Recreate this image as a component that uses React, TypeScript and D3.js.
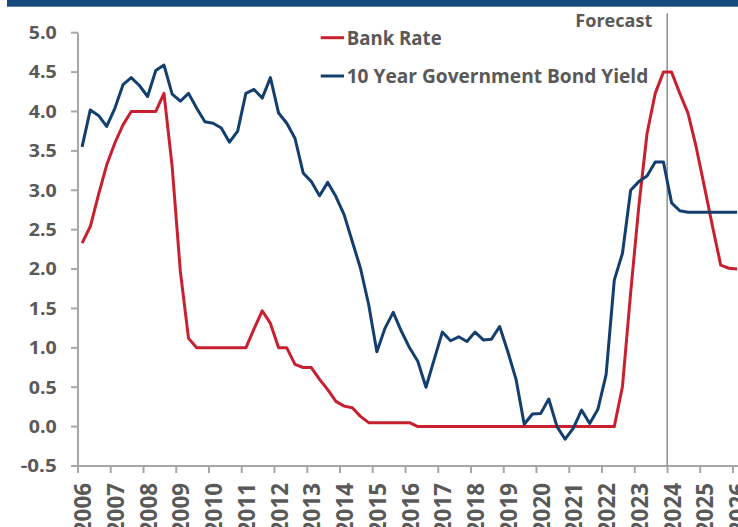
import React from "react";
import * as d3 from "d3";

// Tick labels / categories
const years: number[] = [2006, 2007, 2008, 2009, 2010, 2011, 2012, 2013, 2014, 2015, 2016, 2017, 2018, 2019, 2020, 2021, 2022, 2023, 2024, 2025, 2026];
const yTicks: number[] = [5.0, 4.5, 4.0, 3.5, 3.0, 2.5, 2.0, 1.5, 1.0, 0.5, 0.0, -0.5];
const quarters: string[] = years.flatMap((y) => ["Q1", "Q2", "Q3", "Q4"].map((q) => `${y}${q}`));

// Series (quarterly, starting 2006Q1)
const bankRate: number[] = [
  2.33, 2.54, 2.94, 3.32, 3.60, 3.83, 4.00, 4.00, 4.00, 4.00, 4.23,
  3.30, 1.97, 1.12, 1.00, 1.00, 1.00, 1.00, 1.00, 1.00, 1.00,
  1.24, 1.47, 1.31, 1.00, 1.00, 0.79, 0.75, 0.75, 0.60, 0.47,
  0.32, 0.26, 0.24, 0.13, 0.05, 0.05, 0.05, 0.05, 0.05, 0.05,
  0.00, 0.00, 0.00, 0.00, 0.00, 0.00, 0.00, 0.00, 0.00, 0.00,
  0.00, 0.00, 0.00, 0.00, 0.00, 0.00, 0.00, 0.00, 0.00, 0.00,
  0.00, 0.00, 0.00, 0.00, 0.00,
  0.51, 1.70, 2.80, 3.72, 4.23,
  4.50, 4.50, 4.23, 3.98, 3.55, 3.05, 2.54, 2.05, 2.01, 2.00,
];
const bondYield: number[] = [
  3.55, 4.02, 3.95, 3.81, 4.04, 4.34, 4.43, 4.33, 4.19, 4.52, 4.59,
  4.22, 4.13, 4.23, 4.04, 3.87, 3.85, 3.79, 3.61, 3.75, 4.23,
  4.28, 4.17, 4.43, 3.98, 3.85, 3.66, 3.22, 3.11, 2.93, 3.10,
  2.92, 2.69, 2.35, 2.01, 1.55, 0.95, 1.25, 1.45, 1.21, 1.00,
  0.83, 0.50, 0.85, 1.20, 1.09, 1.14, 1.08, 1.20, 1.10, 1.11,
  1.27, 0.95, 0.60, 0.03, 0.16, 0.165, 0.35, 0.00, -0.16, -0.02,
  0.21, 0.04, 0.22, 0.66, 1.86, 2.20, 3.00, 3.11, 3.18, 3.36,
  3.36, 2.84, 2.74, 2.72, 2.72, 2.72, 2.72, 2.72, 2.72, 2.72,
];
const forecastYear = 2024;
const seriesNames = ["Bank Rate", "10 Year Government Bond Yield"];

const W = 738;
const H = 527;
const RED = "#c8202f";
const BLUE = "#133f6e";
const TEXT = "#595959";
const AXIS = "#a6a6a6";
const FONT = "'Open Sans', sans-serif";

export default function App() {
  const x = d3.scaleLinear().domain([2006, 2026]).range([78, 733]);
  const y = d3.scaleLinear().domain([-0.5, 5.0]).range([466, 32.7]);
  const tOf = (i: number) => {
    const yr = +quarters[i].slice(0, 4);
    const q = +quarters[i].slice(5);
    return yr + (q - 1) * 0.25 + 0.125;
  };
  const line = d3
    .line<number>()
    .x((_, i) => x(tOf(i)))
    .y((d) => y(d))
    .curve(d3.curveLinear);

  const axisY = y(-0.5);

  return (
    <svg
      width={W}
      height={H}
      style={{ position: "absolute", left: 0, top: 0, background: "#fff" }}
      fontFamily={FONT}
    >
      <rect x={7} y={0} width={W - 7} height={6.7} fill="#174a7c" />

      {/* y axis */}
      <line x1={78} x2={78} y1={y(5.0)} y2={axisY} stroke={AXIS} strokeWidth={2} />
      {yTicks.map((t) => (
        <g key={t}>
          <line x1={71} x2={78} y1={y(t)} y2={y(t)} stroke={AXIS} strokeWidth={2} />
          <text
            x={56.7}
            y={y(t)}
            dy="0.36em"
            textAnchor="end"
            fontSize={17.5}
            fontWeight="bold"
            fill={TEXT}
            textLength={t < 0 ? 36 : 28}
            lengthAdjust="spacingAndGlyphs"
          >
            {t.toFixed(1)}
          </text>
        </g>
      ))}

      {/* x axis */}
      <line x1={78} x2={W} y1={axisY} y2={axisY} stroke={AXIS} strokeWidth={2} />
      {years.map((yr) => (
        <g key={yr}>
          <line x1={x(yr)} x2={x(yr)} y1={axisY} y2={axisY + 7} stroke={AXIS} strokeWidth={2} />
          <text
            transform={`translate(${x(yr) + 13},${483}) rotate(-90)`}
            textAnchor="end"
            fontSize={22.4}
            fontWeight="bold"
            fill={TEXT}
          >
            {yr}
          </text>
        </g>
      ))}

      {/* forecast marker */}
      <line
        x1={x(forecastYear) - 0.3}
        x2={x(forecastYear) - 0.3}
        y1={13.3}
        y2={axisY}
        stroke="#8c8c8c"
        strokeWidth={1.5}
      />
      <text
        x={652.3}
        y={27.3}
        textAnchor="end"
        fontSize={17}
        fontWeight="bold"
        fill={TEXT}
        textLength={77}
        lengthAdjust="spacingAndGlyphs"
      >
        Forecast
      </text>

      {/* series */}
      <path d={line(bankRate) || ""} fill="none" stroke={RED} strokeWidth={3} strokeLinejoin="round" />
      <path d={line(bondYield) || ""} fill="none" stroke={BLUE} strokeWidth={3} strokeLinejoin="round" />

      {/* legend */}
      <line x1={320.7} x2={344} y1={37.7} y2={37.7} stroke={RED} strokeWidth={3} />
      <text x={346.7} y={45} fontSize={19.5} fontWeight="bold" fill={TEXT} textLength={95} lengthAdjust="spacingAndGlyphs">
        {seriesNames[0]}
      </text>
      <line x1={320.7} x2={344} y1={76} y2={76} stroke={BLUE} strokeWidth={3} />
      <text x={346.7} y={82.7} fontSize={19.5} fontWeight="bold" fill={TEXT} textLength={301.6} lengthAdjust="spacingAndGlyphs">
        {seriesNames[1]}
      </text>
    </svg>
  );
}
